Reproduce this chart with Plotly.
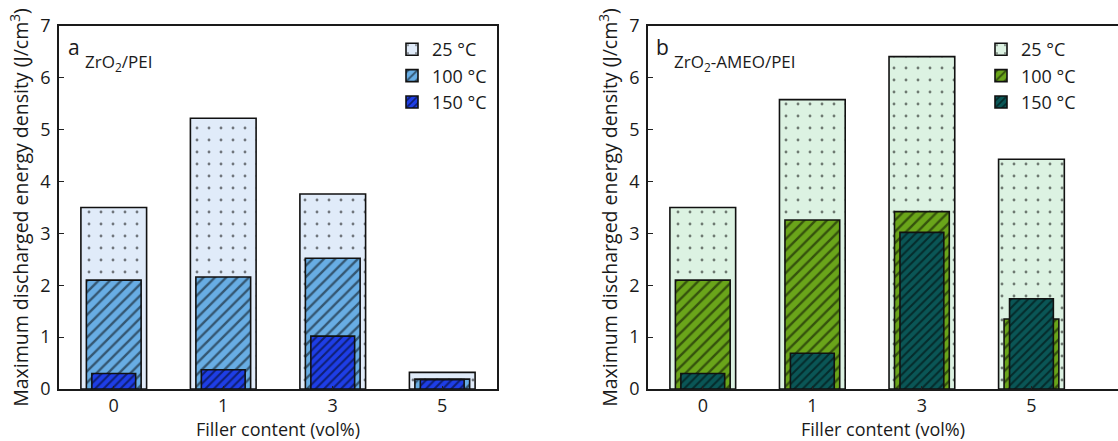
import plotly.graph_objects as go

categories = ["0", "1", "3", "5"]
temps = ["25 °C", "100 °C", "150 °C"]

# Panel a: ZrO2/PEI
a_25 = [3.50, 5.22, 3.76, 0.32]
a_100 = [2.10, 2.16, 2.52, 0.19]
a_150 = [0.30, 0.37, 1.02, 0.18]

# Panel b: ZrO2-AMEO/PEI
b_25 = [3.50, 5.58, 6.41, 4.43]
b_100 = [2.10, 3.26, 3.42, 1.35]
b_150 = [0.30, 0.69, 3.02, 1.74]

colors_a = ["#e0ebf9", "#68ade4", "#1e3ee6"]
colors_b = ["#dcf2e2", "#6aa51a", "#0a5656"]
widths = [0.6, 0.5, 0.4]
patterns = [dict(shape=".", size=12, solidity=0.045),
            dict(shape="/", size=8, solidity=0.3),
            dict(shape="/", size=6, solidity=0.34)]

FONT = "Open Sans"
INK = "#1a1a1a"
fig = go.Figure()

def add_panel(series, colors, xa, ya, legend):
    for i, (vals, col) in enumerate(zip(series, colors)):
        fig.add_trace(go.Bar(
            x=categories, y=vals, width=widths[i], name=temps[i],
            xaxis=xa, yaxis=ya, legend=legend,
            marker=dict(color=col, line=dict(color="#111111", width=1.6),
                        pattern=dict(fgcolor="#000000", bgcolor=col,
                                     fillmode="overlay", **patterns[i])),
            hoverinfo="skip",
        ))

add_panel([a_25, a_100, a_150], colors_a, "x", "y", "legend")
add_panel([b_25, b_100, b_150], colors_b, "x2", "y2", "legend2")

W, H = 1118, 441
ydom = [(H - 389) / H, (H - 26) / H]
xdom1 = [59 / W, 497 / W]
xdom2 = [648 / W, 1.0]
axis_line = dict(showline=True, linecolor="#1a1a1a", linewidth=1.7)
tickfont = dict(family=FONT, size=18, color=INK)
ytitle = "Maximum discharged energy density (J/cm<sup>3</sup>)"
xtitle = "Filler content (vol%)"

common_x = dict(type="category", ticks="inside", ticklen=3, tickcolor="#222222",
                tickfont=tickfont, showgrid=False, zeroline=False,
                title=dict(text=xtitle, font=dict(family=FONT, size=18, color=INK), standoff=5),
                automargin=False, **axis_line)
common_y = dict(range=[0, 7], dtick=1, ticks="inside", ticklen=5, tickcolor="#222222",
                tickfont=tickfont, showgrid=False, zeroline=False, ticklabelstandoff=3,
                title=dict(text=ytitle, font=dict(family=FONT, size=19.5, color=INK), standoff=6),
                automargin=False, **axis_line)

legend_common = dict(xanchor="right", yanchor="top", bgcolor="rgba(0,0,0,0)",
                     font=dict(family=FONT, size=18, color=INK), tracegroupgap=0)

fig.update_layout(
    width=W, height=H,
    margin=dict(l=0, r=0, t=0, b=0),
    paper_bgcolor="white", plot_bgcolor="white",
    barmode="overlay",
    font=dict(family=FONT, size=18, color=INK),
    xaxis=dict(domain=xdom1, range=[-0.5, 3.5], anchor="y", mirror=True, **common_x),
    yaxis=dict(domain=ydom, anchor="x", mirror=True, **common_y),
    xaxis2=dict(domain=xdom2, range=[-0.5, 3.79], anchor="y2", mirror=True, **common_x),
    yaxis2=dict(domain=ydom, anchor="x2", mirror=False, **common_y),
    legend=dict(x=492 / W, y=1 - 31 / H, **legend_common),
    legend2=dict(x=1081 / W, y=1 - 31 / H, **legend_common),
    showlegend=True,
)

ann_font = dict(family=FONT, size=21, color=INK)
sub_font = dict(family=FONT, size=17, color=INK)
fig.add_annotation(text="a", x=66 / W, y=1 - 47 / H, xref="paper", yref="paper",
                   xanchor="left", yanchor="middle", showarrow=False, font=ann_font)
fig.add_annotation(text="ZrO<sub>2</sub>/PEI", x=83 / W, y=1 - 63 / H, xref="paper", yref="paper",
                   xanchor="left", yanchor="middle", showarrow=False, font=sub_font)
fig.add_annotation(text="b", x=654 / W, y=1 - 47 / H, xref="paper", yref="paper",
                   xanchor="left", yanchor="middle", showarrow=False, font=ann_font)
fig.add_annotation(text="ZrO<sub>2</sub>-AMEO/PEI", x=672 / W, y=1 - 63 / H, xref="paper", yref="paper",
                   xanchor="left", yanchor="middle", showarrow=False, font=sub_font)

fig.write_html("out.html")
